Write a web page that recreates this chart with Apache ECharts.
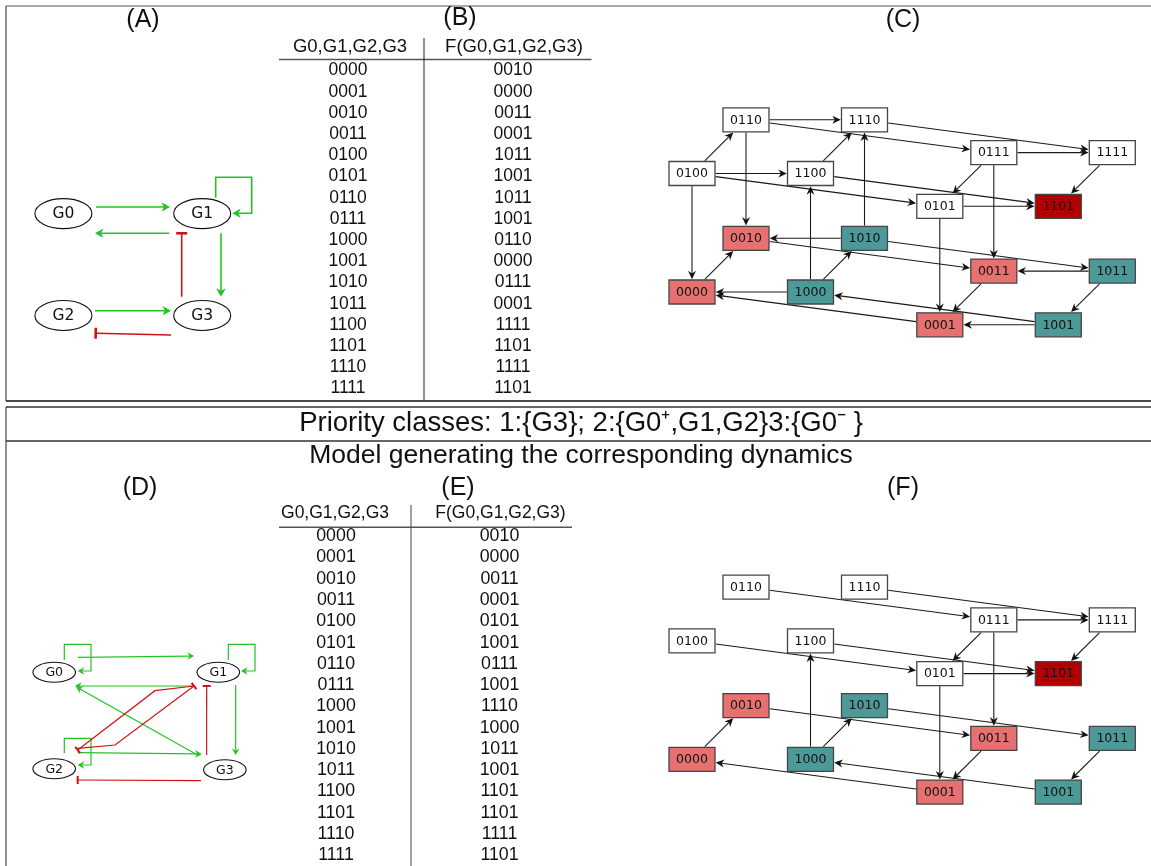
<!DOCTYPE html>
<html>
<head>
<meta charset="utf-8">
<script src="https://cdn.jsdelivr.net/npm/echarts@6/dist/echarts.min.js"></script>
<style>html,body{margin:0;padding:0;background:#fff}#c{width:1151px;height:866px}</style>
</head>
<body>
<div id="c"></div>
<script>
// ---------------- DATA ----------------
const states = ['0000','0001','0010','0011','0100','0101','0110','0111',
                '1000','1001','1010','1011','1100','1101','1110','1111'];
const nextB  = ['0010','0000','0011','0001','1011','1001','1011','1001',
                '0110','0000','0111','0001','1111','1101','1111','1101'];
const nextE  = ['0010','0000','0011','0001','0101','1001','0111','1001',
                '1110','1000','1011','1001','1101','1101','1111','1101'];
// state colouring (C) and (F)
const stateClass = ['cycle','cycle','cycle','cycle','basin','basin','basin','basin',
                    'both','both','both','both','basin','fixed','basin','basin'];
const genes = ['G0','G1','G2','G3'];
const edgesA = [['G0','G1','+'],['G1','G0','+'],['G1','G1','+'],['G1','G3','+'],
                ['G3','G1','-'],['G2','G3','+'],['G3','G2','-']];
const edgesD = [['G0','G0','+'],['G0','G1','+'],['G1','G1','+'],['G1','G0','+'],
                ['G3','G0','+'],['G1','G3','+'],['G3','G1','-'],['G2','G2','+'],
                ['G2','G3','+'],['G3','G2','-'],['G1','G2','-'],['G2','G1','-']];
const panelLabels = ['(A)','(B)','(C)','(D)','(E)','(F)'];
const tableHeader = ['G0,G1,G2,G3','F(G0,G1,G2,G3)'];
const priorityText = 'Priority classes: 1:{G3}; 2:{G0\u207A,G1,G2}3:{G0\u207B }';
const modelText = 'Model generating the corresponding dynamics';

// ---------------- LAYOUT / STYLE ----------------
const COLORS = {cycle:'#e67170', both:'#4c9997', basin:'#ffffff', fixed:'#b20000'};
const GREEN = '#22c422', RED = '#cc1414';
const BW = 46, BH = 24;
const HYPER = {origin:[32,192], basis:[[118.5,0],[0,-118.5],[54,-53.7],[247.8,32.8]]};
const NET = {
  A: {pos:{G0:[0,0],G1:[1,0],G2:[0,1],G3:[1,1]}, rx:28.5, ry:15, font:15.5, lw:1.6,
      arrowL:8.5, arrowW:4.8, notch:2.5, barW:11, barLW:2.6,
      routes:[
        [['s',32.6,-6.6],['t',-32.2,-6.6]],
        [['s',-32.9,19.7],['t',31.6,19.7]],
        [['s',13.5,-15.9],['s',13.5,-36.3],['s',49.5,-36.3],['s',49.5,-0.3],['s',30.1,-0.3]],
        [['s',18.8,19.7],['t',18.8,-18.8]],
        [['s',-20.5,-18.8],['t',-20.5,19.7]],
        [['s',31.6,-4.8],['t',-31.2,-4.8]],
        [['s',-31.2,19.5],['t',32.3,17.8]]
      ]},
  D: {pos:{G0:[0,0],G1:[1,0],G2:[0,1],G3:[1.04,1.01]}, rx:21.3, ry:10, font:12.5, lw:1.2,
      arrowL:6.5, arrowW:3.8, notch:2, barW:8, barLW:2,
      routes:[
        [['s',10.1,-12.2],['s',10.1,-27.9],['s',36.8,-27.9],['s',36.8,-1.2],['s',23.5,-1.2]],
        [['s',23.5,-14.9],['t',-24.3,-16.2]],
        [['s',10,-12.2],['s',10,-27.9],['s',36.7,-27.9],['s',36.7,-1.2],['s',22.7,-1.2]],
        [['s',-25,13.8],['t',20.8,13.8]],
        [['s',-25.6,-13.8],['t',21.8,14.5]],
        [['s',17.4,12.8],['t',10.8,-14.8]],
        [['s',-18.2,-14.8],['t',-11.6,13.8]],
        [['s',10.1,-15.5],['s',10.1,-30.5],['s',36.8,-30.5],['s',36.8,-3.8],['s',23.5,-3.8]],
        [['s',23.5,-16.1],['t',-23.2,-15.8]],
        [['s',-23.9,10.9],['t',23.5,11.2]],
        [['s',-24.3,13.8],['s',-63.3,18.5],['t',23.5,-18.8]],
        [['s',23.5,-20.5],['s',60.8,-23.8],['t',-24.3,13.8]]
      ]}
};
const SANS = 'Liberation Sans, Arial, sans-serif';
const DEJA = 'DejaVu Sans, sans-serif';

// ---------------- helpers ----------------
function statePos(s){
  let x = HYPER.origin[0], y = HYPER.origin[1];
  for (let i=0;i<4;i++) if (s[i]==='1'){ x+=HYPER.basis[i][0]; y+=HYPER.basis[i][1]; }
  return [x,y];
}
function asyncEdges(next){
  const out=[];
  states.forEach((s,i)=>{
    const f=next[i];
    for(let k=0;k<4;k++) if(s[k]!==f[k]){
      const t=s.substring(0,k)+f[k]+s.substring(k+1);
      const a=statePos(s), b=statePos(t);
      out.push([a[0],a[1],b[0],b[1]]);
    }
  });
  return out;
}
function textStyle(text,size,family,extra){
  return Object.assign({text:text,fontSize:size,fontFamily:family,fill:'#111',
    align:'center',verticalAlign:'middle',textAlign:'center',textVerticalAlign:'middle'},extra||{});
}
function stateNodeRender(params, api){
  const p=api.coord([api.value(0),api.value(1)]);
  const idx=api.value(2);
  return {type:'group',children:[
    {type:'rect',shape:{x:p[0]-BW/2,y:p[1]-BH/2,width:BW,height:BH},
     style:{fill:COLORS[stateClass[idx]],stroke:'#454545',lineWidth:1.3}},
    {type:'text',x:p[0],y:p[1]+0.5,style:textStyle(states[idx],12.5,DEJA,{fill:'#111'})}
  ]};
}
function stateEdgeRender(params, api){
  const a=api.coord([api.value(0),api.value(1)]);
  const b=api.coord([api.value(2),api.value(3)]);
  const dx=b[0]-a[0], dy=b[1]-a[1], len=Math.hypot(dx,dy);
  const ux=dx/len, uy=dy/len, nx=-uy, ny=ux;
  const hw=BW/2+0.7, hh=BH/2+0.7;
  const t=Math.min(hw/Math.abs(ux), hh/Math.abs(uy));
  const s=[a[0]+ux*t,a[1]+uy*t], e=[b[0]-ux*t,b[1]-uy*t];
  const L=8.5, W=4, N=2.6;
  const notch=[e[0]-ux*(L-N),e[1]-uy*(L-N)];
  const bx=e[0]-ux*L, by=e[1]-uy*L;
  return {type:'group',children:[
    {type:'line',shape:{x1:s[0],y1:s[1],x2:notch[0],y2:notch[1]},style:{stroke:'#1a1a1a',lineWidth:1.1}},
    {type:'polygon',shape:{points:[e,[bx+nx*W,by+ny*W],notch,[bx-nx*W,by-ny*W]]},style:{fill:'#111'}}
  ]};
}
function netNodeRender(L){
  return function(params, api){
    const p=api.coord([api.value(0),api.value(1)]);
    const name=genes[api.value(2)];
    return {type:'group',children:[
      {type:'ellipse',shape:{cx:p[0],cy:p[1],rx:L.rx,ry:L.ry},style:{fill:'#fff',stroke:'#111',lineWidth:1.1}},
      {type:'text',x:p[0],y:p[1]+0.5,style:textStyle(name,L.font,DEJA)}
    ]};
  };
}
function netEdgeRender(L, edges){
  return function(params, api){
    const k=api.value(4);
    const sign=edges[k][2];
    const S=api.coord([api.value(0),api.value(1)]);
    const T=api.coord([api.value(2),api.value(3)]);
    const pts=L.routes[k].map(r=>{const b=r[0]==='s'?S:T;return [b[0]+r[1],b[1]+r[2]];});
    const n=pts.length, end=pts[n-1], prev=pts[n-2];
    const dx=end[0]-prev[0], dy=end[1]-prev[1], len=Math.hypot(dx,dy);
    const ux=dx/len, uy=dy/len, nx=-uy, ny=ux;
    const color=sign==='+'?GREEN:RED;
    const ch=[];
    if(sign==='+'){
      const notch=[end[0]-ux*(L.arrowL-L.notch),end[1]-uy*(L.arrowL-L.notch)];
      const bx=end[0]-ux*L.arrowL, by=end[1]-uy*L.arrowL;
      ch.push({type:'polyline',shape:{points:pts.slice(0,n-1).concat([notch])},style:{stroke:color,lineWidth:L.lw,fill:'none'}});
      ch.push({type:'polygon',shape:{points:[end,[bx+nx*L.arrowW,by+ny*L.arrowW],notch,[bx-nx*L.arrowW,by-ny*L.arrowW]]},style:{fill:color}});
    } else {
      ch.push({type:'polyline',shape:{points:pts},style:{stroke:color,lineWidth:L.lw,fill:'none'}});
      ch.push({type:'line',shape:{x1:end[0]+nx*L.barW/2,y1:end[1]+ny*L.barW/2,x2:end[0]-nx*L.barW/2,y2:end[1]-ny*L.barW/2},
               style:{stroke:color,lineWidth:L.barLW}});
    }
    return {type:'group',children:ch};
  };
}
function tableRender(next, size){
  return function(params, api){
    const col=api.value(0), row=api.value(1);
    const p=api.coord([col,row]);
    return {type:'text',x:p[0],y:p[1],style:textStyle(col===0?states[row]:next[row],size,SANS)};
  };
}
function tableData(){
  const d=[]; states.forEach((s,r)=>{d.push([0,r]);d.push([1,r]);}); return d;
}
function netNodeData(L){ return genes.map((g,i)=>[L.pos[g][0],L.pos[g][1],i]); }
function netEdgeData(L, edges){
  return edges.map((e,k)=>[L.pos[e[0]][0],L.pos[e[0]][1],L.pos[e[1]][0],L.pos[e[1]][1],k]);
}
const stateNodeData = states.map((s,i)=>{const p=statePos(s);return [p[0],p[1],i];});

// ---------------- chart ----------------
const chart = echarts.init(document.getElementById('c'), null, {renderer:'canvas'});
const grids = [
  {left:348, top:70.5, width:165, height:318},   // B
  {left:336, top:536.3, width:163.5, height:319},// E
  {left:660, top:100, width:480, height:240},    // C
  {left:660, top:567.3, width:480, height:240},  // F
  {left:63.4, top:213.6, width:138.8, height:101.9}, // A
  {left:54.2, top:672.2, width:164.1, height:96.6}   // D
];
const ext = [[1,15],[1,15],[480,240],[480,240],[1,1],[1,1]];
const xAxis = ext.map((e,i)=>({type:'value',gridIndex:i,min:0,max:e[0],show:false}));
const yAxis = ext.map((e,i)=>({type:'value',gridIndex:i,min:0,max:e[1],inverse:true,show:false}));
function custom(idx, data, render, z){
  return {type:'custom',coordinateSystem:'cartesian2d',xAxisIndex:idx,yAxisIndex:idx,
          data:data,renderItem:render,clip:false,silent:true,z:z,animation:false};
}
const series = [
  custom(0, tableData(), tableRender(nextB,17.5), 2),
  custom(1, tableData(), tableRender(nextE,17.8), 2),
  custom(2, asyncEdges(nextB), stateEdgeRender, 2),
  custom(2, stateNodeData, stateNodeRender, 3),
  custom(3, asyncEdges(nextE), stateEdgeRender, 2),
  custom(3, stateNodeData, stateNodeRender, 3),
  custom(4, netEdgeData(NET.A,edgesA), netEdgeRender(NET.A,edgesA), 2),
  custom(4, netNodeData(NET.A), netNodeRender(NET.A), 3),
  custom(5, netEdgeData(NET.D,edgesD), netEdgeRender(NET.D,edgesD), 2),
  custom(5, netNodeData(NET.D), netNodeRender(NET.D), 3)
];
function gLine(x1,y1,x2,y2,stroke,lw){return {type:'line',shape:{x1,y1,x2,y2},style:{stroke:stroke,lineWidth:lw},silent:true};}
function gText(x,y,text,size,family){return {type:'text',x:x,y:y,style:textStyle(text,size,family),silent:true};}
const labelPos = [[143,20.5],[460,18.5],[903,20],[140,488],[458,488],[903,488]];
const graphic = [
  gLine(6,6,1151,6,'#555',1.2), gLine(6,6,6,401,'#444',1.2), gLine(6,401,1151,401,'#111',1.4),
  gLine(6,407,1151,407,'#333',1.3), gLine(6,407,6,866,'#444',1.2), gLine(6,441,1151,441,'#333',1.3),
  gLine(279,59.5,591.5,59.5,'#555',1.4), gLine(424,38,424,401,'#222',1),
  gLine(279,527.3,572,527.3,'#555',1.4), gLine(411,505,411,866,'#444',1),
  gText(350,46.5,tableHeader[0],18.5,SANS), gText(514,46.5,tableHeader[1],18.5,SANS),
  gText(335,513.3,tableHeader[0],17.5,SANS), gText(500.5,513.3,tableHeader[1],17.5,SANS),
  gText(581,423,priorityText,27.5,SANS), gText(581,456,modelText,26.5,SANS)
].concat(panelLabels.map((t,i)=>gText(labelPos[i][0],labelPos[i][1],t,25,SANS)));

chart.setOption({animation:false, grid:grids, xAxis:xAxis, yAxis:yAxis, series:series, graphic:graphic});
</script>
</body>
</html>
